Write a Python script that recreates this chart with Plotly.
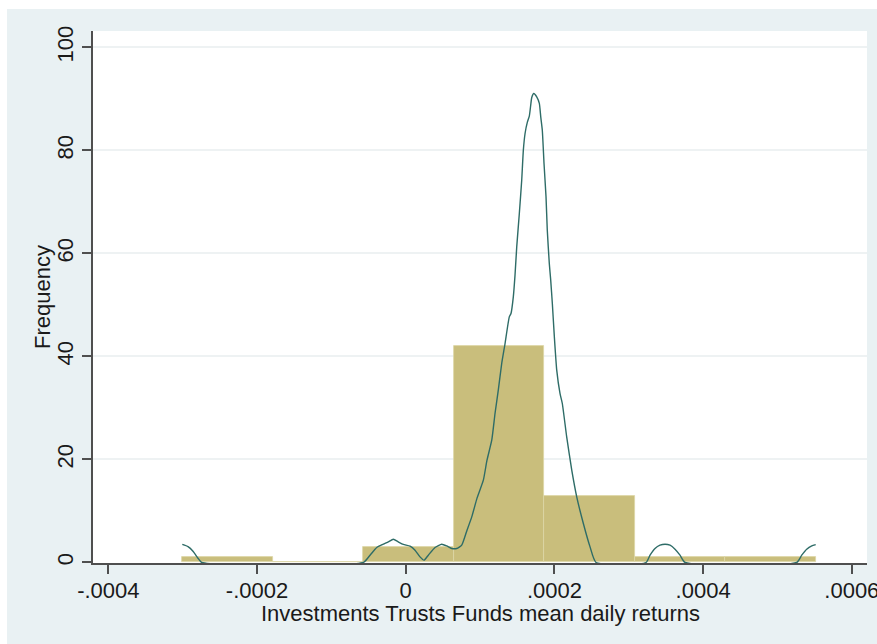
import plotly.graph_objects as go

# Histogram of fund mean daily returns (frequency scale)
bin_edges = [-0.0003005, -0.0001788, -0.0000571, 0.0000646, 0.0001863,
             0.0003080, 0.0004297, 0.0005514]
bin_counts = [1, 0, 3, 42, 13, 1, 1]

# Kernel density overlay, expressed on the frequency scale
curve_x = [
    -0.0003005, -0.0002928, -0.0002861, -0.0002794, -0.0002744,
    -0.0000570, -0.0000480, -0.0000390, -0.0000301, -0.0000234, -0.0000167,
    -0.0000100, -0.0000032, 0.0000058, 0.0000125, 0.0000192, 0.0000246,
    0.0000304, 0.0000394, 0.0000484, 0.0000551, 0.0000619, 0.0000686,
    0.0000753, 0.0000820, 0.0000888, 0.0000959, 0.0001044, 0.0001093,
    0.0001157, 0.0001201, 0.0001245, 0.0001291, 0.0001336, 0.0001393,
    0.0001416, 0.0001447, 0.0001470, 0.0001493, 0.0001528, 0.0001560,
    0.0001582, 0.0001605, 0.0001636, 0.0001662, 0.0001681, 0.0001695,
    0.0001722, 0.0001762, 0.0001797, 0.0001816, 0.0001837, 0.0001860,
    0.0001887, 0.0001904, 0.0001931, 0.0001950, 0.0001972, 0.0001999,
    0.0002031, 0.0002075, 0.0002106, 0.0002165, 0.0002233, 0.0002300,
    0.0002389, 0.0002479, 0.0002560,
    0.0003232, 0.0003286, 0.0003353, 0.0003420, 0.0003488, 0.0003555,
    0.0003622, 0.0003689, 0.0003757,
    0.0005259, 0.0005326, 0.0005393, 0.0005461, 0.0005514,
]
curve_y = [
    3.50, 3.07, 2.19, 0.83, 0.0,
    0.0, 1.42, 2.91, 3.55, 4.00, 4.52,
    4.00, 3.50, 3.17, 2.39, 1.09, 0.45,
    1.42, 2.91, 3.55, 3.22, 2.72, 2.72,
    3.36, 6.08, 8.85, 12.49, 15.98, 19.86,
    23.75, 28.93, 33.46, 38.64, 42.52, 47.69,
    48.35, 51.57, 55.79, 61.28, 67.77, 74.23,
    80.06, 83.30, 85.50, 86.66, 88.80, 90.29,
    91.07, 90.41, 89.13, 86.52, 83.94, 77.48,
    70.99, 64.52, 58.06, 54.82, 50.29, 43.81,
    37.34, 32.82, 30.87, 24.39, 17.92, 12.74,
    7.57, 3.03, 0.0,
    0.0, 1.42, 2.72, 3.36, 3.55, 3.36,
    2.58, 1.42, 0.0,
    0.0, 1.42, 2.58, 3.22, 3.46,
]

x_tickvals = [-0.0004, -0.0002, 0.0, 0.0002, 0.0004, 0.0006]
x_ticktext = ["-.0004", "-.0002", "0", ".0002", ".0004", ".0006"]
y_tickvals = [0, 20, 40, 60, 80, 100]
y_ticktext = ["0", "20", "40", "60", "80", "100"]

x_title = "Investments Trusts Funds mean daily returns"
y_title = "Frequency"

bar_centers = [(a + b) / 2 for a, b in zip(bin_edges[:-1], bin_edges[1:])]
bar_widths = [b - a for a, b in zip(bin_edges[:-1], bin_edges[1:])]

FONT = "Liberation Sans, Arial, Helvetica, sans-serif"
AXIS_GREY = "#4f4f4f"
BG = "#E9F1F3"
FS = 22

fig = go.Figure()
fig.add_trace(go.Bar(
    x=bar_centers, y=bin_counts, width=bar_widths,
    marker=dict(color="#C9BE7C", line=dict(color="#DCD5A6", width=0.8)),
    showlegend=False, hoverinfo="skip",
))
fig.add_trace(go.Scatter(
    x=curve_x, y=curve_y, mode="lines",
    line=dict(color="#2E6C67", width=1.4, shape="spline", smoothing=0.5),
    showlegend=False, hoverinfo="skip",
))

W, H = 877, 644
ML, MR, MT, MB = 93, 10, 31, 81
pw, ph = W - ML - MR, H - MT - MB

fig.update_layout(
    width=W, height=H,
    margin=dict(l=ML, r=MR, t=MT, b=MB, pad=0, autoexpand=False),
    paper_bgcolor=BG, plot_bgcolor="white",
    bargap=0, showlegend=False,
    font=dict(family=FONT, size=FS, color="#1a1a1a"),
    xaxis=dict(
        range=[-0.0004206, 0.0006204], automargin=False,
        tickvals=x_tickvals, ticktext=x_ticktext,
        showgrid=False, zeroline=False,
        showline=True, linecolor=AXIS_GREY, linewidth=1.6,
        ticks="outside", ticklen=9, tickwidth=1.6, tickcolor=AXIS_GREY,
        tickfont=dict(size=FS), ticklabelstandoff=-2,
        ticklabeloverflow="allow",
    ),
    yaxis=dict(
        range=[-0.1, 103.2], automargin=False,
        tickvals=y_tickvals, ticktext=y_ticktext, tickangle=-90,
        showgrid=True, gridcolor="#EEF2F3", gridwidth=1.5,
        zeroline=False,
        showline=True, linecolor=AXIS_GREY, linewidth=1.6,
        ticks="outside", ticklen=9, tickwidth=1.6, tickcolor=AXIS_GREY,
        tickfont=dict(size=FS), ticklabelstandoff=0,
    ),
)

# axis titles
fig.add_annotation(text=x_title, xref="paper", yref="paper",
                   x=0.5, y=-(613 - (H - MB)) / ph, xanchor="center",
                   yanchor="middle", showarrow=False, font=dict(size=FS))
fig.add_annotation(text=y_title, xref="paper", yref="paper",
                   x=-(ML - 42) / pw, y=0.5, xanchor="center",
                   yanchor="middle", textangle=-90, showarrow=False,
                   font=dict(size=FS))

# thin white border round the graph region (top and left)
fig.add_shape(type="rect", xref="paper", yref="paper", layer="below",
              x0=-ML / pw - 0.01, x1=1 + MR / pw + 0.01,
              y0=1 + (MT - 9) / ph, y1=1 + MT / ph + 0.01,
              fillcolor="white", line=dict(width=0))
fig.add_shape(type="rect", xref="paper", yref="paper", layer="below",
              x0=-ML / pw - 0.01, x1=-(ML - 7) / pw,
              y0=-MB / ph - 0.01, y1=1 + MT / ph + 0.01,
              fillcolor="white", line=dict(width=0))

fig.write_html("out.html")
